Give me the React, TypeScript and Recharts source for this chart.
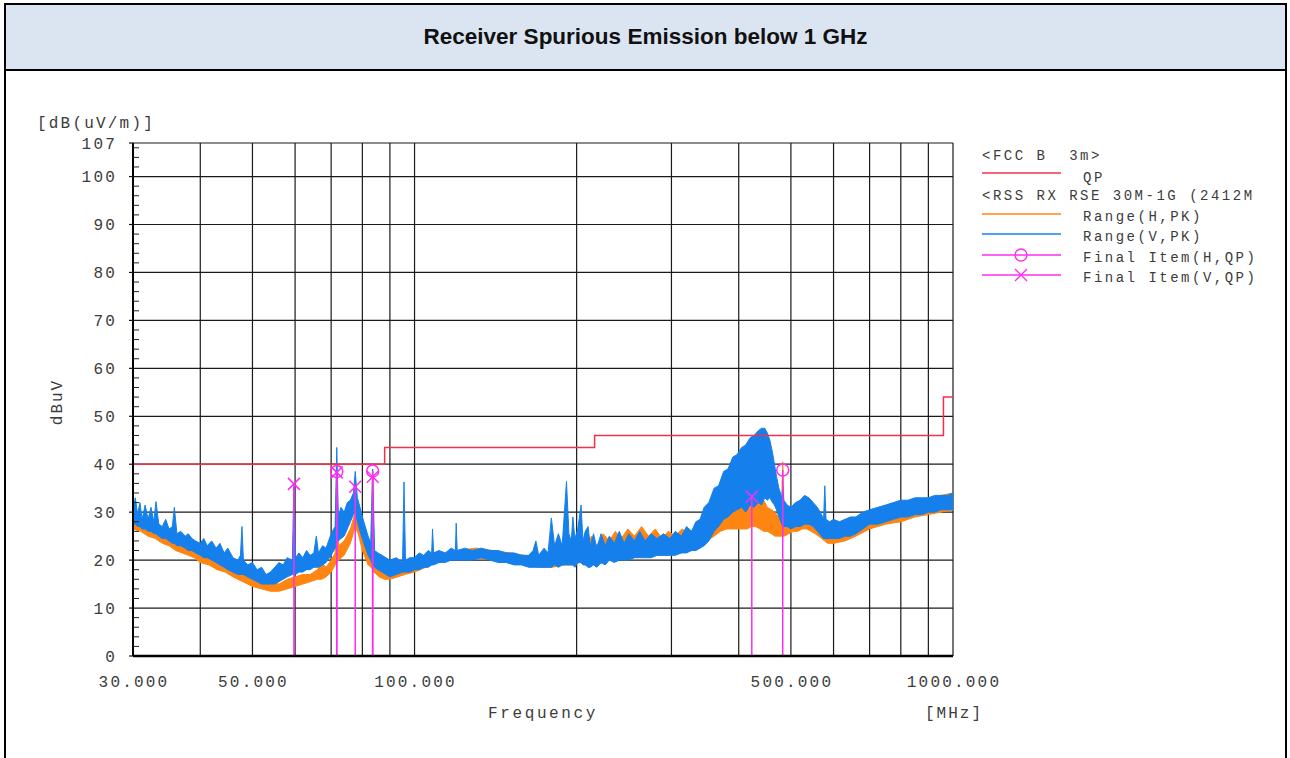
import React from 'react'
import {
  ComposedChart,
  Area,
  Line,
  Scatter,
  XAxis,
  YAxis,
  CartesianGrid,
  ReferenceLine
} from 'recharts'

const MONO = '"Liberation Mono", "DejaVu Sans Mono", monospace'

// axis ticks / grid
const gridFreqs = [30, 40, 50, 60, 70, 80, 90, 100, 200, 300, 400, 500, 600, 700, 800, 900, 1000]
const labelFreqs = [30, 50, 100, 500, 1000]
const levelTicks = [0, 10, 20, 30, 40, 50, 60, 70, 80, 90, 100, 107]
const minorLevels = [
  2, 4, 6, 8, 12, 14, 16, 18, 22, 24, 26, 28, 32, 34, 36, 38, 42, 44, 46, 48, 52, 54, 56, 58,
  62, 64, 66, 68, 72, 74, 76, 78, 82, 84, 86, 88, 92, 94, 96, 98, 102, 104, 106
]

// FCC B 3m QP limit (MHz, dBuV/m)
const limitFreq = [30, 88, 216, 960, 1000]
const limitQP = [40, 43.5, 46, 54, 54]

// Range(H,PK) trace envelope: [MHz, low, high]
const hTrace: [number, number, number][] = [
  [30, 26.5, 28.5], [31, 26, 27.5], [32, 25, 27], [33, 24.5, 26], [34, 23.5, 25.5], [35, 23, 24.5],
  [36, 22, 24], [37, 21.5, 23], [38, 21, 22.5], [39, 20.5, 22], [40, 19.5, 21.5], [41.5, 19, 20.5],
  [43, 18, 20], [44.5, 17.5, 19], [46, 16.5, 18.5], [48, 15.5, 17.5], [50, 14.5, 16.5], [52, 14, 15.5],
  [54, 13.5, 15.5], [56, 13.5, 15], [58, 14, 16], [60, 14.5, 16.5], [62, 15, 17], [64, 15.5, 17],
  [66, 16, 18], [67.2, 16, 19.5], [68.5, 16.5, 18.5], [70, 17.5, 20], [71.2, 19, 21.5],
  [71.7, 19.5, 38], [72.3, 20, 23], [74, 21, 24], [76, 23.5, 26.5], [77.6, 27, 30],
  [78.6, 25.5, 28.5], [80, 22, 25], [82, 19, 22], [83.1, 18.5, 21], [83.6, 18, 38.5],
  [84.1, 17.5, 20.5], [86, 16.5, 19], [88, 16, 18.5], [90, 16, 18], [93, 16.5, 18.5], [96, 17, 19],
  [100, 17.5, 19.5], [105, 18.5, 20.5], [110, 19.5, 21], [115, 20, 21.5], [120, 20.5, 22],
  [130, 20.5, 22.5], [140, 20, 22], [150, 19.5, 21.5], [160, 19, 21], [170, 18.5, 20.5],
  [180, 18.5, 21], [190, 19, 21.5], [197, 19, 22.5], [203, 19.5, 24], [208, 19, 22.5],
  [213, 19.5, 25], [218, 19, 23], [224, 19.5, 25.5], [230, 20, 24], [236, 20, 26], [242, 20.5, 24.5],
  [249, 20.5, 26.5], [256, 20.5, 25], [264, 21, 27], [272, 21, 25], [280, 21, 26.5], [288, 21, 24.5],
  [296, 21, 26], [305, 21.5, 25], [314, 21.5, 26.5], [323, 22, 25.5], [332, 22, 27], [341, 23, 27.5],
  [350, 24, 28.5], [360, 25, 29.5], [370, 26, 30], [380, 26.5, 31.5], [390, 26.5, 30.5],
  [400, 26.5, 32], [408, 26.5, 31], [415, 26.5, 33], [422, 27, 32], [430, 27, 33.5],
  [438, 26.5, 31.5], [445, 26, 32.5], [452, 26, 31], [460, 25.5, 30.5], [467, 25, 30],
  [474, 25, 29], [480, 25, 29], [482.8, 25, 40.5], [486, 25, 28.5], [495, 25.5, 28.5],
  [505, 26, 29.5], [515, 26, 30], [525, 26.5, 30.5], [535, 26.5, 29.5], [545, 26, 30],
  [555, 25.5, 29], [570, 24.5, 27.5], [585, 23.5, 26.5], [600, 23.5, 26.5], [630, 24, 27.5],
  [660, 25, 28.5], [700, 26.5, 29.5], [750, 27.5, 30.5], [800, 28, 31.5], [850, 29, 32.5],
  [900, 29.5, 33], [950, 30, 33.5], [1000, 30.5, 34]
]

// Range(V,PK) trace envelope: [MHz, low, high]
const vTrace: [number, number, number][] = [
  [30, 27.5, 30.5], [30.3, 27.5, 33], [30.6, 27, 29.5], [30.9, 27, 32], [31.2, 26.5, 28.5],
  [31.6, 26.5, 31.5], [32, 26, 28.5], [32.4, 26, 31], [32.8, 25.5, 28], [33.1, 25.5, 32.2],
  [33.5, 25, 27.5], [34, 24.5, 27], [34.5, 24.5, 28.5], [35, 24, 26.5], [35.5, 23.5, 27],
  [35.8, 23.5, 31], [36.2, 23, 25.5], [36.8, 23, 26], [37.5, 22.5, 25], [38, 22, 25.5],
  [38.6, 22, 24.5], [39.2, 21.5, 24], [40, 21, 23.5], [40.6, 20.5, 24.5], [41.2, 20.5, 23],
  [42, 20, 24], [42.8, 19.5, 22.5], [43.5, 19, 23.5], [44.3, 18.5, 21.5], [45, 18, 22.5],
  [46, 17.5, 20.5], [47, 17, 20], [47.5, 17, 21], [47.8, 17, 27], [48.1, 17, 20], [49, 16.5, 19],
  [50, 16, 19.5], [51, 15.5, 18], [52, 15, 18.5], [53, 15, 17], [54, 15, 17.5], [55, 15, 18.5],
  [56, 15.5, 19.5], [57, 16, 19], [58, 16.5, 20.5], [59.3, 17, 20], [59.7, 17, 36], [60.1, 17, 20.5],
  [61, 17.5, 21.5], [62, 17.5, 20.5], [63, 18, 22], [64, 18, 21], [65, 18.5, 21.5], [65.7, 18.5, 25],
  [66.3, 18.5, 21.5], [67.5, 19, 23], [68.5, 19.5, 22.5], [70, 21, 25.5], [71.2, 22.5, 27],
  [71.7, 24, 43.5], [72.2, 24, 29], [73, 24.5, 31], [74, 25, 30], [75, 26.5, 32], [76, 28, 32.5],
  [77, 29.5, 34], [77.6, 30, 38.5], [78.3, 28, 33], [79.2, 26, 31], [80.5, 23.5, 28], [82, 21, 25],
  [82.9, 20, 23.5], [83.6, 19, 39], [84.3, 18.5, 22], [85.5, 18, 21.5], [87, 17.5, 21],
  [88.5, 17, 20.5], [90, 16.5, 20], [92.5, 17, 20.5], [95, 17.5, 19.5], [95.6, 17.5, 36.3],
  [96.2, 17.5, 20], [98, 17.5, 20.5], [100, 18, 20.5], [102, 18, 21.5], [104, 18.5, 21],
  [106, 18.5, 22], [107.6, 19, 21.5], [108, 19, 26.5], [108.5, 19, 21.5], [111, 19.5, 22],
  [114, 19.5, 21.5], [117, 20, 22.5], [119.1, 20, 22], [119.5, 20, 27.7], [120, 20, 22],
  [124, 20, 22.5], [128, 20, 22], [133, 20.5, 22.5], [138, 20, 22], [143, 19.5, 22],
  [148, 19.5, 21.5], [153, 19, 21.5], [158, 19, 21], [163, 18.5, 21], [166, 18.5, 22],
  [168, 18.5, 24], [170, 18.5, 21], [174, 18.5, 22.5], [177, 18.5, 21.5], [179.5, 18.5, 28.8],
  [182, 19, 23], [185, 18.5, 25.5], [188, 19, 23], [191.5, 19, 36.4], [193.5, 19, 25.5],
  [195.5, 19, 24], [196.8, 19, 29], [198.5, 18.5, 24.5], [201, 19.5, 26.5], [203.8, 19.5, 31.5],
  [205.5, 19, 24], [207.5, 19, 26], [210, 18.5, 27], [212, 18.5, 23], [215, 19, 25.5],
  [218, 18.5, 22.5], [222, 19.5, 25.5], [226, 19, 23], [230, 20, 25], [235, 19.5, 23.5],
  [240, 20, 26], [245, 20, 23.5], [250, 20, 25.5], [256, 20.5, 24], [262, 20.5, 26],
  [268, 20.5, 24], [275, 20.5, 25.5], [282, 21, 24.5], [290, 21, 25.5], [298, 21, 24.5],
  [305, 21, 26], [313, 21.5, 25], [320, 21.5, 27], [327, 22, 26], [333, 22, 28], [339, 22.5, 28.5],
  [345, 23, 31], [352, 24, 32], [360, 26, 35], [367, 27, 35.5], [375, 28.5, 38.5], [382, 29, 39],
  [390, 30, 41.5], [397, 30.5, 42], [405, 31, 43.5], [412, 30, 44], [420, 31.5, 45.5],
  [427, 31, 46], [435, 32, 47], [441, 31.5, 47.5], [447, 33, 47.5], [452, 32.5, 46.5],
  [457, 33, 45], [462, 32, 42.5], [466, 31.5, 40], [470, 30.5, 37.5], [475, 29, 35],
  [481, 27.5, 33], [482.8, 27, 35.5], [485, 27, 32.5], [492, 27, 31.5], [500, 26.5, 31],
  [510, 27, 32], [520, 27, 32.5], [530, 27.5, 33.5], [540, 27.5, 33], [550, 27, 32], [560, 26, 31],
  [570, 25, 29.5], [575, 24.5, 28.5], [578, 24.5, 35.5], [581, 24.5, 28.5], [590, 24.5, 28],
  [600, 24.5, 28.5], [615, 24.5, 28], [630, 25, 28.5], [645, 25, 29], [660, 25.5, 29],
  [680, 26.5, 30], [700, 27.5, 30.5], [725, 27.5, 31], [750, 28, 31.5], [775, 28.5, 32],
  [800, 29, 32.5], [825, 29, 32.5], [850, 29.5, 33], [875, 29.5, 33], [900, 30, 33],
  [925, 30, 33.5], [950, 30.5, 33.5], [975, 30.5, 33.5], [1000, 30.5, 34]
]

// Final Item quasi-peak readings
const finalHFreq = [71.7, 83.6, 482.8]
const finalHLevel = [38.5, 38.6, 38.8]
const finalVFreq = [59.7, 71.7, 77.6, 83.6, 423]
const finalVLevel = [35.9, 38.3, 35.3, 37.4, 33.2]

const RED = '#f2304a'
const ORANGE = '#ff8512'
const BLUE = '#1580ec'
const MAGENTA = '#ff2cf0'
const TEXT = '#3c3c3c'

const limitData = limitFreq.map((f, i) => ({ f, v: limitQP[i] }))
const hData = hTrace.map(([f, lo, hi]) => ({ f, band: [lo, hi] }))
const vData = vTrace.map(([f, lo, hi]) => ({ f, band: [lo, hi] }))
const finalH = finalHFreq.map((f, i) => ({ f, v: finalHLevel[i] }))
const finalV = finalVFreq.map((f, i) => ({ f, v: finalVLevel[i] }))
const yTicks = [...levelTicks, ...minorLevels].sort((a, b) => a - b)

function LevelTick(props: any) {
  const { x, y, payload } = props
  const v = payload.value
  if (levelTicks.includes(v)) {
    return (
      <g>
        <line x1={x + 12} x2={x + 16} y1={y} y2={y} stroke="#111" strokeWidth={1.2} />
        <text x={x} y={y + 5.5} textAnchor="end" fill={TEXT} fontSize={16}
          fontFamily={MONO} letterSpacing={2.2}>{v}</text>
      </g>
    )
  }
  return <line x1={x + 16} x2={x + 22} y1={y} y2={y} stroke="#222" strokeWidth={1} />
}

function FreqTick(props: any) {
  const { x, y, payload } = props
  return (
    <text x={x + 1} y={y + 30.5} textAnchor="middle" fill={TEXT} fontSize={16}
      fontFamily={MONO} letterSpacing={2.2}>{payload.value.toFixed(3)}</text>
  )
}

const Ring = (p: any) => (
  <circle cx={p.cx} cy={p.cy} r={6} fill="none" stroke={MAGENTA} strokeWidth={1.5} />
)

const Cross = (p: any) => (
  <path d={`M${p.cx - 6},${p.cy - 6}L${p.cx + 6},${p.cy + 6}M${p.cx - 6},${p.cy + 6}L${p.cx + 6},${p.cy - 6}`}
    stroke={MAGENTA} strokeWidth={1.5} fill="none" />
)

function LegendBlock() {
  const rows = [
    { y: 173, color: RED, label: 'QP', marker: null },
    { y: 214, color: ORANGE, label: 'Range(H,PK)', marker: null },
    { y: 234, color: BLUE, label: 'Range(V,PK)', marker: null },
    { y: 255, color: MAGENTA, label: 'Final Item(H,QP)', marker: 'o' },
    { y: 275, color: MAGENTA, label: 'Final Item(V,QP)', marker: 'x' }
  ]
  return (
    <g fontFamily={MONO} fontSize={14} fill={TEXT} letterSpacing={2.5}>
      <text x={982} y={160} xmlSpace="preserve">{'<FCC B  3m>'}</text>
      <text x={982} y={200} xmlSpace="preserve">{'<RSS RX RSE 30M-1G (2412M'}</text>
      {rows.map(r => (
        <g key={r.label}>
          <line x1={982} x2={1061} y1={r.y} y2={r.y} stroke={r.color} strokeWidth={1.3} />
          {r.marker === 'o' && <circle cx={1021} cy={r.y} r={6} fill="none" stroke={r.color} strokeWidth={1.3} />}
          {r.marker === 'x' && (
            <path d={`M1015,${r.y - 6}L1027,${r.y + 6}M1015,${r.y + 6}L1027,${r.y - 6}`} stroke={r.color} strokeWidth={1.3} />
          )}
          <text x={1083} y={r.y + (r.label === 'QP' ? 9 : 7)}>{r.label}</text>
        </g>
      ))}
    </g>
  )
}

export default function App() {
  return (
    <div style={{ position: 'absolute', left: 0, top: 0, width: 1290, height: 758, overflow: 'hidden', background: '#fff' }}>
      <div style={{
        position: 'absolute', left: 4, top: 3, width: 1283, height: 800, boxSizing: 'border-box',
        border: '2px solid #000'
      }}>
        <div style={{
          height: 64, background: '#dbe5f1', borderBottom: '2px solid #000', display: 'flex',
          alignItems: 'center', justifyContent: 'center', fontFamily: '"Liberation Sans", Arial, sans-serif',
          fontWeight: 700, fontSize: 22.5, color: '#111'
        }}>
          Receiver Spurious Emission below 1 GHz
        </div>
      </div>

      <div style={{ position: 'absolute', left: 0, top: 0 }}>
        <ComposedChart width={1290} height={758} margin={{ top: 143, right: 337, bottom: 72, left: 58 }}>
          <CartesianGrid
            horizontalValues={levelTicks}
            verticalValues={gridFreqs}
            stroke="#1a1a1a"
            strokeWidth={1.2}
          />
          <XAxis
            dataKey="f"
            type="number"
            scale="log"
            domain={[30, 1000]}
            allowDataOverflow
            ticks={labelFreqs}
            interval={0}
            tickSize={0}
            tickMargin={0}
            height={30}
            tick={<FreqTick />}
            tickLine={false}
            axisLine={{ stroke: '#000', strokeWidth: 2.5 }}
          />
          <YAxis
            type="number"
            domain={[0, 107]}
            allowDataOverflow
            ticks={yTicks}
            interval={0}
            width={75}
            tickSize={0}
            tickMargin={16}
            tick={<LevelTick />}
            tickLine={false}
            axisLine={{ stroke: '#000', strokeWidth: 2 }}
          />
          <Line
            data={limitData}
            dataKey="v"
            type="stepAfter"
            stroke={RED}
            strokeWidth={1.5}
            dot={false}
            activeDot={false}
            isAnimationActive={false}
          />
          <Area
            data={hData}
            dataKey="band"
            type="linear"
            stroke={ORANGE}
            strokeWidth={1}
            fill={ORANGE}
            fillOpacity={1}
            dot={false}
            activeDot={false}
            isAnimationActive={false}
          />
          <Area
            data={vData}
            dataKey="band"
            type="linear"
            stroke={BLUE}
            strokeWidth={1}
            fill={BLUE}
            fillOpacity={1}
            dot={false}
            activeDot={false}
            isAnimationActive={false}
          />
          {finalH.map(d => (
            <ReferenceLine key={`h${d.f}`} segment={[{ x: d.f, y: 0 }, { x: d.f, y: d.v }]}
              stroke={MAGENTA} strokeWidth={1.5} />
          ))}
          {finalV.map(d => (
            <ReferenceLine key={`v${d.f}`} segment={[{ x: d.f, y: 0 }, { x: d.f, y: d.v }]}
              stroke={MAGENTA} strokeWidth={1.5} />
          ))}
          <Scatter data={finalH} dataKey="v" shape={Ring} isAnimationActive={false} />
          <Scatter data={finalV} dataKey="v" shape={Cross} isAnimationActive={false} />
        </ComposedChart>
      </div>

      <svg width={1290} height={758} style={{ position: 'absolute', left: 0, top: 0, pointerEvents: 'none' }}>
        <text x={37} y={128} fontFamily={MONO} fontSize={16} fill={TEXT} letterSpacing={2.2}>[dB(uV/m)]</text>
        <text x={0} y={0} transform="translate(62,402) rotate(-90)" textAnchor="middle"
          fontFamily={MONO} fontSize={16} fill={TEXT} letterSpacing={2}>dBuV</text>
        <text x={543} y={718} textAnchor="middle" fontFamily={MONO} fontSize={16} fill={TEXT} letterSpacing={2.6}>Frequency</text>
        <text x={954} y={718} textAnchor="middle" fontFamily={MONO} fontSize={16} fill={TEXT} letterSpacing={2}>[MHz]</text>
        <LegendBlock />
      </svg>
    </div>
  )
}
